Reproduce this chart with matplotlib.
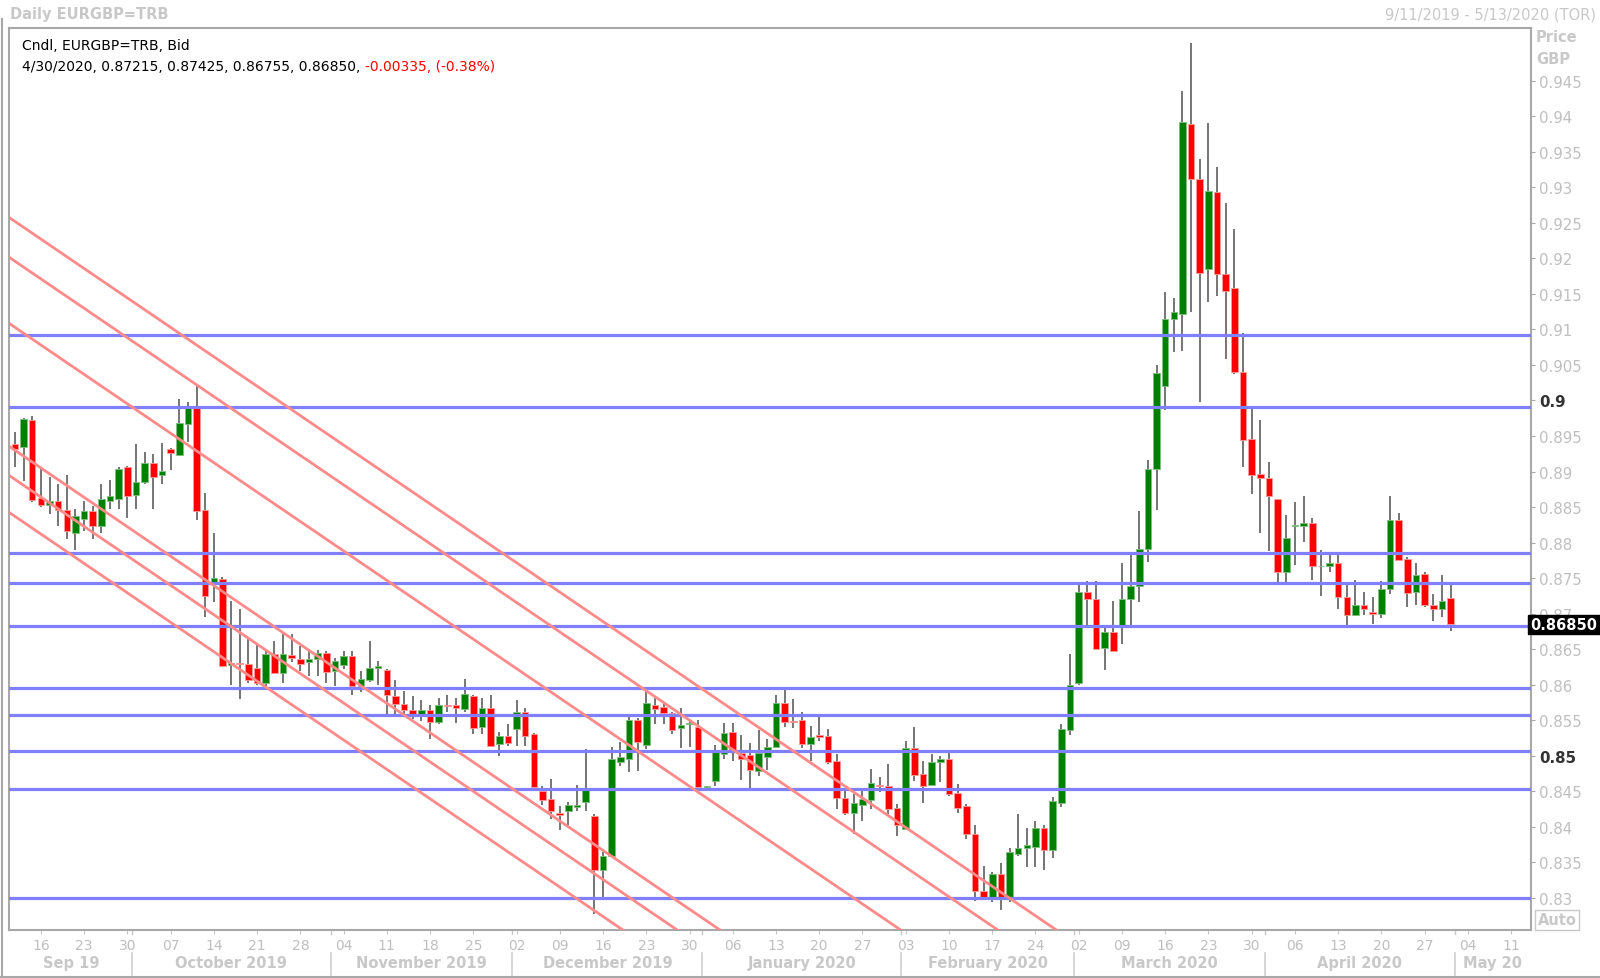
import numpy as np
import pandas as pd
import matplotlib
matplotlib.use('Agg')
import matplotlib.pyplot as plt
import matplotlib.transforms as mtransforms
from matplotlib.lines import Line2D

plt.rcParams['font.family'] = ['DejaVu Sans']

# trading days shown on the axis (data ends 4/30/2020, axis runs to 5/13/2020)
dates = pd.bdate_range('2019-09-11', '2020-05-13')

# daily EURGBP candles
opens = [0.8939, 0.8935, 0.8972, 0.8863, 0.8853, 0.8858, 0.8846, 0.8814, 0.8833, 0.8845,
         0.8824, 0.8858, 0.8862, 0.8907, 0.8867, 0.8886, 0.8912, 0.8895, 0.8932, 0.8923,
         0.8967, 0.8989, 0.8846, 0.8744, 0.8749, 0.8628, 0.8630, 0.8629, 0.8623, 0.8603,
         0.8643, 0.8617, 0.8642, 0.8636, 0.8632, 0.8636, 0.8644, 0.8620, 0.8628, 0.8640,
         0.8598, 0.8607, 0.8623, 0.8621, 0.8584, 0.8573, 0.8565, 0.8557, 0.8565, 0.8548,
         0.8571, 0.8571, 0.8566, 0.8584, 0.8540, 0.8567, 0.8517, 0.8528, 0.8538, 0.8562,
         0.8531, 0.8451, 0.8439, 0.8420, 0.8422, 0.8428, 0.8435, 0.8415, 0.8340, 0.8359,
         0.8492, 0.8496, 0.8550, 0.8515, 0.8571, 0.8569, 0.8560, 0.8539, 0.8545, 0.8540,
         0.8456, 0.8464, 0.8502, 0.8533, 0.8504, 0.8501, 0.8478, 0.8499, 0.8513, 0.8574,
         0.8549, 0.8550, 0.8516, 0.8529, 0.8528, 0.8493, 0.8441, 0.8419, 0.8431, 0.8438,
         0.8459, 0.8457, 0.8427, 0.8397, 0.8511, 0.8474, 0.8459, 0.8491, 0.8496, 0.8448,
         0.8430, 0.8390, 0.8310, 0.8301, 0.8334, 0.8301, 0.8362, 0.8370, 0.8372, 0.8398,
         0.8367, 0.8434, 0.8537, 0.8603, 0.8731, 0.8721, 0.8652, 0.8674, 0.8683, 0.8721,
         0.8739, 0.8791, 0.8903, 0.9020, 0.9115, 0.9122, 0.9389, 0.9312, 0.9185, 0.9294,
         0.9178, 0.9158, 0.9040, 0.8946, 0.8897, 0.8891, 0.8862, 0.8759, 0.8823, 0.8824,
         0.8827, 0.8767, 0.8767, 0.8771, 0.8723, 0.8698, 0.8712, 0.8702, 0.8699, 0.8735,
         0.8832, 0.8777, 0.8731, 0.8756, 0.8712, 0.8707, 0.87215]
highs = [0.8956, 0.8975, 0.8978, 0.8904, 0.8892, 0.8882, 0.8895, 0.8848, 0.8858, 0.8852,
         0.8883, 0.8888, 0.8906, 0.8908, 0.8939, 0.8927, 0.8925, 0.8940, 0.8933, 0.9002,
         0.8998, 0.9023, 0.8870, 0.8813, 0.8752, 0.8718, 0.8706, 0.8665, 0.8657, 0.8648,
         0.8662, 0.8674, 0.8671, 0.8655, 0.8651, 0.8649, 0.8647, 0.8638, 0.8648, 0.8647,
         0.8619, 0.8661, 0.8633, 0.8622, 0.8607, 0.8591, 0.8584, 0.8578, 0.8571, 0.8582,
         0.8586, 0.8582, 0.8608, 0.8586, 0.8581, 0.8586, 0.8534, 0.8545, 0.8578, 0.8567,
         0.8532, 0.8458, 0.8468, 0.8429, 0.8435, 0.8459, 0.8510, 0.8418, 0.8365, 0.8512,
         0.8520, 0.8555, 0.8553, 0.8593, 0.8584, 0.8575, 0.8561, 0.8567, 0.8551, 0.8550,
         0.8458, 0.8515, 0.8546, 0.8546, 0.8529, 0.8518, 0.8536, 0.8524, 0.8585, 0.8593,
         0.8580, 0.8562, 0.8542, 0.8555, 0.8538, 0.8503, 0.8453, 0.8446, 0.8452, 0.8481,
         0.8470, 0.8489, 0.8432, 0.8521, 0.8540, 0.8493, 0.8503, 0.8500, 0.8506, 0.8460,
         0.8432, 0.8403, 0.8345, 0.8336, 0.8349, 0.8370, 0.8418, 0.8399, 0.8409, 0.8402,
         0.8442, 0.8545, 0.8643, 0.8742, 0.8746, 0.8746, 0.8680, 0.8718, 0.8771, 0.8785,
         0.8845, 0.8916, 0.9050, 0.9153, 0.9144, 0.9436, 0.9503, 0.9340, 0.9390, 0.9329,
         0.9278, 0.9242, 0.9095, 0.8989, 0.8972, 0.8914, 0.8862, 0.8839, 0.8857, 0.8866,
         0.8834, 0.8790, 0.8784, 0.8782, 0.8740, 0.8748, 0.8731, 0.8723, 0.8746, 0.8866,
         0.8842, 0.8780, 0.8771, 0.8758, 0.8728, 0.8755, 0.87425]
lows = [0.8907, 0.8887, 0.8857, 0.8850, 0.8840, 0.8823, 0.8805, 0.8789, 0.8817, 0.8805,
        0.8814, 0.8848, 0.8848, 0.8834, 0.8848, 0.8882, 0.8848, 0.8882, 0.8902, 0.8922,
        0.8942, 0.8832, 0.8696, 0.8717, 0.8625, 0.8600, 0.8580, 0.8603, 0.8599, 0.8596,
        0.8615, 0.8603, 0.8632, 0.8620, 0.8613, 0.8613, 0.8602, 0.8598, 0.8622, 0.8586,
        0.8590, 0.8604, 0.8599, 0.8559, 0.8559, 0.8557, 0.8552, 0.8549, 0.8524, 0.8545,
        0.8562, 0.8546, 0.8561, 0.8531, 0.8531, 0.8512, 0.8500, 0.8514, 0.8514, 0.8514,
        0.8456, 0.8431, 0.8411, 0.8395, 0.8403, 0.8423, 0.8423, 0.8277, 0.8299, 0.8357,
        0.8485, 0.8477, 0.8478, 0.8509, 0.8545, 0.8545, 0.8531, 0.8511, 0.8513, 0.8456,
        0.8450, 0.8458, 0.8496, 0.8493, 0.8466, 0.8454, 0.8472, 0.8480, 0.8513, 0.8540,
        0.8539, 0.8511, 0.8493, 0.8521, 0.8488, 0.8425, 0.8417, 0.8390, 0.8409, 0.8425,
        0.8449, 0.8418, 0.8387, 0.8397, 0.8465, 0.8434, 0.8459, 0.8463, 0.8444, 0.8420,
        0.8383, 0.8296, 0.8297, 0.8295, 0.8283, 0.8295, 0.8359, 0.8343, 0.8344, 0.8340,
        0.8356, 0.8428, 0.8530, 0.8599, 0.8683, 0.8651, 0.8621, 0.8648, 0.8657, 0.8683,
        0.8716, 0.8773, 0.8846, 0.8986, 0.9068, 0.9069, 0.9124, 0.8998, 0.9138, 0.9147,
        0.9058, 0.9037, 0.8906, 0.8868, 0.8814, 0.8788, 0.8740, 0.8745, 0.8768, 0.8801,
        0.8748, 0.8725, 0.8758, 0.8707, 0.8683, 0.8697, 0.8698, 0.8686, 0.8694, 0.8728,
        0.8776, 0.8710, 0.8712, 0.8710, 0.8690, 0.8695, 0.86755]
closes = [0.8932, 0.8974, 0.8860, 0.8853, 0.8859, 0.8846, 0.8816, 0.8837, 0.8845, 0.8823,
          0.8861, 0.8865, 0.8903, 0.8866, 0.8886, 0.8912, 0.8893, 0.8901, 0.8926, 0.8968,
          0.8989, 0.8845, 0.8725, 0.8750, 0.8627, 0.8630, 0.8629, 0.8607, 0.8602, 0.8643,
          0.8617, 0.8643, 0.8637, 0.8629, 0.8636, 0.8644, 0.8618, 0.8633, 0.8640, 0.8598,
          0.8608, 0.8623, 0.8626, 0.8585, 0.8573, 0.8565, 0.8557, 0.8565, 0.8547, 0.8571,
          0.8570, 0.8567, 0.8587, 0.8539, 0.8567, 0.8514, 0.8528, 0.8518, 0.8562, 0.8528,
          0.8456, 0.8438, 0.8423, 0.8417, 0.8431, 0.8431, 0.8452, 0.8340, 0.8359, 0.8495,
          0.8498, 0.8550, 0.8519, 0.8575, 0.8566, 0.8560, 0.8536, 0.8544, 0.8545, 0.8456,
          0.8457, 0.8505, 0.8532, 0.8505, 0.8496, 0.8480, 0.8504, 0.8513, 0.8574, 0.8548,
          0.8548, 0.8517, 0.8527, 0.8527, 0.8492, 0.8441, 0.8419, 0.8433, 0.8439, 0.8462,
          0.8458, 0.8425, 0.8402, 0.8511, 0.8473, 0.8458, 0.8492, 0.8496, 0.8446, 0.8427,
          0.8390, 0.8310, 0.8301, 0.8334, 0.8301, 0.8364, 0.8371, 0.8375, 0.8398, 0.8367,
          0.8437, 0.8538, 0.8600, 0.8731, 0.8721, 0.8651, 0.8674, 0.8648, 0.8721, 0.8739,
          0.8791, 0.8903, 0.9039, 0.9115, 0.9124, 0.9392, 0.9311, 0.9180, 0.9295, 0.9178,
          0.9154, 0.9040, 0.8945, 0.8895, 0.8891, 0.8865, 0.8759, 0.8807, 0.8825, 0.8827,
          0.8767, 0.8767, 0.8771, 0.8723, 0.8698, 0.8712, 0.8706, 0.8699, 0.8735, 0.8832,
          0.8776, 0.8729, 0.8755, 0.8712, 0.8707, 0.87185, 0.8685]

# horizontal support / resistance levels (blue)
levels = [0.9092, 0.8991, 0.8786, 0.8743, 0.8682, 0.8596, 0.8557, 0.8507, 0.8454, 0.8300]

# descending channel lines (red): value on the first day and slope per trading day
channel_start = [0.9252, 0.9196, 0.9103, 0.8930, 0.8889, 0.8837]
channel_slope = -0.000828

last_price = 0.8685
header1 = 'Cndl, EURGBP=TRB, Bid'
header2 = '4/30/2020, 0.87215, 0.87425, 0.86755, 0.86850, '
header2_chg = '-0.00335, (-0.38%)'

W, H = 1600, 979
fig = plt.figure(figsize=(W / 100, H / 100), dpi=100)
fig.patch.set_facecolor('white')
left, right, top, bottom = 9.2, 1530.6, 28.6, 930.6
ax = fig.add_axes([left / W, 1 - bottom / H, (right - left) / W, (bottom - top) / H])

light = '#BFBFBF'
x = np.arange(len(opens))
o, h, l, c = map(np.array, (opens, highs, lows, closes))
up = c >= o

ax.vlines(x, l, h, color='#505050', lw=1.1, zorder=3)
body = np.maximum(np.abs(c - o), 0.00006)
ax.bar(x, body, bottom=np.minimum(o, c), width=0.76,
       color=np.where(up, '#008000', '#FF0000'),
       edgecolor=np.where(up, '#80C080', '#FF9A9A'), linewidth=0.6, zorder=4)

for lv in levels:
    ax.axhline(lv, color='#8080FF', lw=2.3, zorder=5)

xx = np.array([-2, 200])
for s in channel_start:
    ax.plot(xx, s + channel_slope * xx, color='#FF8A8A', lw=2.0, zorder=5)

xmin, xmax = -0.66, 175.25
ax.set_xlim(xmin, xmax)
ax.set_ylim(0.82555, 0.95247)

for sp in ax.spines.values():
    sp.set_color('#A8A8A8')
    sp.set_linewidth(1.5)

# right price axis
yt = np.round(np.arange(0.830, 0.9451, 0.005), 3)
ax.yaxis.tick_right()
ax.set_yticks(yt)
ax.set_yticklabels(['%g' % v for v in yt])
ax.tick_params(axis='y', length=3, color='#A8A8A8', pad=3, labelsize=10.8, labelcolor=light)
for lab, v in zip(ax.get_yticklabels(), yt):
    if abs(v - 0.85) < 1e-9 or abs(v - 0.9) < 1e-9:
        lab.set_color('#333333')
        lab.set_fontweight('bold')

# bottom date axis: Mondays
mondays = [i for i, d in enumerate(dates) if d.weekday() == 0]
ax.set_xticks(mondays)
ax.set_xticklabels([dates[i].strftime('%d') for i in mondays])
ax.tick_params(axis='x', length=3, color='#C8C8C8', pad=3, labelsize=10, labelcolor=light)

trans = ax.get_xaxis_transform()
ah = bottom - top
months = pd.Series(np.arange(len(dates)), index=dates).groupby(dates.to_period('M'))
for per, idx in months:
    a = max(idx.iloc[0] - 0.5, xmin)
    b = min(idx.iloc[-1] + 0.5, xmax)
    if idx.iloc[-1] + 0.5 < xmax:
        sep = idx.iloc[-1] + 0.5
        ax.plot([sep, sep], [-(954 - bottom) / ah, -(976 - bottom) / ah], transform=trans,
                clip_on=False, color='#D0D0D0', lw=1.2)
        ax.plot([sep, sep], [0, -4 / ah], transform=trans, clip_on=False, color='#C8C8C8', lw=1)
    name = per.strftime('%b %y') if b - a < 16 else per.strftime('%B %Y')
    ax.text((a + b) / 2, -(964 - bottom) / ah, name, transform=trans, ha='center', va='center',
            fontsize=10.5, fontweight='bold', color='#C8C8C8')

# last price tag
ptrans = mtransforms.blended_transform_factory(ax.transAxes, ax.transData)
ax.text(1.0, last_price, '%.5f' % last_price, transform=ptrans, ha='left', va='center',
        color='white', fontsize=10.5, fontweight='bold', zorder=10, clip_on=False,
        bbox=dict(boxstyle='square,pad=0.15', facecolor='black', edgecolor='black'))

# texts
fig.text(10 / W, 1 - 15 / H, 'Daily EURGBP=TRB', fontsize=10.5, fontweight='bold', color='#C8C8C8', va='center')
fig.text(1596 / W, 1 - 15 / H, '9/11/2019 - 5/13/2020 (TOR)', fontsize=10.5, color='#C8C8C8',
         va='center', ha='right')
fig.text(22 / W, 1 - 46 / H, header1, fontsize=10, color='black', va='center')
t2 = fig.text(22 / W, 1 - 67 / H, header2, fontsize=10, color='black', va='center')
ax.annotate(header2_chg, xy=(1, 0.5), xycoords=t2, va='center', ha='left', fontsize=10, color='red')

fig.text(1536 / W, 1 - 38 / H, 'Price', fontsize=10.5, fontweight='bold', color='#C8C8C8', va='center')
fig.text(1536 / W, 1 - 59 / H, 'GBP', fontsize=10.5, fontweight='bold', color='#C8C8C8', va='center')
fig.text(1557 / W, 1 - 921 / H, 'Auto', fontsize=10.5, fontweight='bold', color='#C8C8C8',
         va='center', ha='center',
         bbox=dict(boxstyle='square,pad=0.2', facecolor='white', edgecolor='#C8C8C8'))

# outer frame
fig.add_artist(Line2D([1.5 / W, 1.5 / W], [0, 1 - 20 / H], transform=fig.transFigure, color='#A8A8A8', lw=1.5))
fig.add_artist(Line2D([0, 1], [1.5 / H, 1.5 / H], transform=fig.transFigure, color='#A8A8A8', lw=1.5))

fig.savefig('out.png', dpi=100)
